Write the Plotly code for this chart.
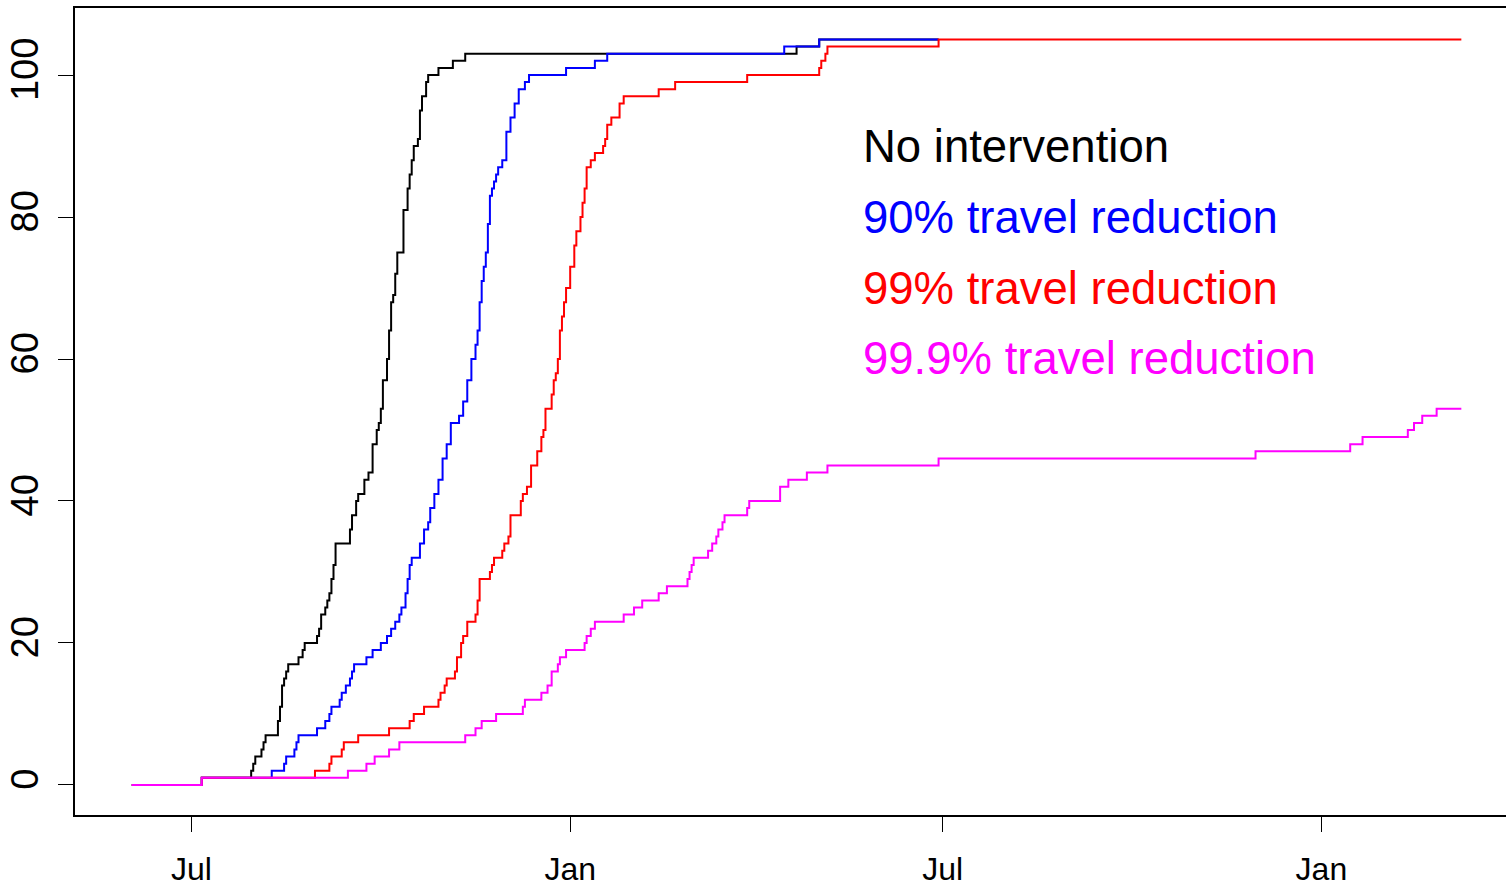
import pandas as pd
import plotly.graph_objects as go

# Cumulative count per scenario, as (day, value) change points.
# Days are counted from 1 July 2009; each value holds until the next day listed.
START = pd.Timestamp("2009-07-01")

days_none = [-29, 5, 29, 30, 31, 34, 35, 36, 42, 43, 44, 45, 46, 47, 52, 54, 55, 61, 62, 63,
             65, 66, 67, 68, 69, 70, 77, 78, 80, 81, 84, 86, 88, 90, 91, 92, 93, 95, 96, 97,
             98, 99, 100, 103, 105, 106, 107, 108, 110, 111, 112, 114, 115, 120, 127, 133,
             294, 305, 363]
vals_none = [0, 1, 2, 3, 4, 5, 6, 7, 9, 11, 14, 15, 16, 17, 18, 19, 20, 21, 22, 24,
             25, 26, 27, 29, 31, 34, 36, 38, 40, 41, 43, 44, 48, 50, 51, 53, 57, 60, 64, 68,
             69, 72, 75, 81, 84, 86, 88, 90, 91, 95, 97, 99, 100, 101, 102, 103,
             104, 105, 105]

days_90 = [-29, 5, 39, 45, 46, 50, 51, 52, 61, 65, 67, 68, 72, 73, 75, 77, 78, 79, 85, 88,
           92, 95, 97, 99, 101, 102, 104, 105, 106, 107, 111, 113, 115, 116, 118, 120, 122,
           124, 126, 130, 132, 134, 136, 138, 139, 140, 141, 142, 143, 144, 145, 146, 147,
           148, 149, 151, 153, 155, 157, 159, 162, 164, 182, 196, 202, 288, 305, 363]
vals_90 = [0, 1, 2, 3, 4, 5, 6, 7, 8, 9, 10, 11, 12, 13, 14, 15, 16, 17, 18, 19,
           20, 21, 22, 23, 24, 25, 27, 29, 31, 32, 34, 36, 37, 39, 41, 43, 46,
           48, 51, 52, 54, 57, 60, 62, 64, 68, 71, 73, 75, 79, 83, 84, 85,
           86, 87, 88, 92, 94, 96, 98, 99, 100, 101, 102, 103, 104, 105, 105]

days_99 = [-29, 5, 60, 67, 68, 73, 74, 81, 96, 106, 108, 113, 120, 121, 123, 124, 128, 129,
           131, 132, 134, 138, 139, 140, 145, 146, 147, 151, 152, 154, 155, 160, 161, 163,
           165, 168, 170, 171, 172, 175, 176, 177, 178, 179, 180, 181, 182, 184, 186, 187,
           189, 190, 191, 192, 194, 196, 200, 201, 202, 204, 208, 210, 227, 235, 270, 305,
           306, 308, 309, 363, 617]
vals_99 = [0, 1, 2, 3, 4, 5, 6, 7, 8, 9, 10, 11, 12, 13, 14, 15, 16, 18,
           20, 21, 23, 24, 26, 29, 30, 31, 32, 33, 34, 35, 38, 40, 41, 42,
           45, 47, 49, 50, 53, 55, 57, 58, 60, 64, 66, 68, 70, 73, 76, 78,
           80, 82, 84, 87, 88, 89, 90, 91, 93, 94, 96, 97, 98, 99, 100, 101,
           102, 103, 104, 105, 105]

days_999 = [-29, 5, 76, 85, 89, 96, 101, 133, 138, 141, 148, 161, 162, 170, 173, 175, 178,
            179, 182, 191, 192, 194, 196, 210, 215, 219, 227, 231, 241, 242, 243, 244, 251,
            253, 255, 256, 258, 259, 270, 271, 286, 290, 299, 309, 363, 517, 563, 569, 591,
            594, 598, 605, 617]
vals_999 = [0, 1, 2, 3, 4, 5, 6, 7, 8, 9, 10, 11, 12, 13, 14, 16, 17,
            18, 19, 20, 21, 22, 23, 24, 25, 26, 27, 28, 29, 30, 31, 32, 33,
            34, 35, 36, 37, 38, 39, 40, 42, 43, 44, 45, 46, 47, 48, 49, 50,
            51, 52, 53, 53]

scenario_names = ["No intervention", "90% travel reduction",
                  "99% travel reduction", "99.9% travel reduction"]
scenario_colors = ["#000000", "#0000FF", "#FF0000", "#FF00FF"]

tick_dates = ["2009-07-01", "2010-01-01", "2010-07-01", "2011-01-01"]
tick_text = ["Jul", "Jan", "Jul", "Jan"]
y_ticks = [0, 20, 40, 60, 80, 100]


def to_dates(days):
    return START + pd.to_timedelta(days, unit="D")


series = [(days_none, vals_none), (days_90, vals_90),
          (days_99, vals_99), (days_999, vals_999)]

FONT = "Liberation Sans, Arial, Helvetica, sans-serif"

fig = go.Figure()
for (d, v), name, col in zip(series, scenario_names, scenario_colors):
    fig.add_trace(go.Scatter(
        x=to_dates(d), y=v, mode="lines", name=name,
        line=dict(color=col, width=2, shape="hv"),
        showlegend=False, hoverinfo="skip",
    ))

# Scenario labels, coloured like their lines
label_y = [0.828, 0.741, 0.653, 0.566]
for name, col, yy in zip(scenario_names, scenario_colors, label_y):
    fig.add_annotation(
        text=name, xref="paper", yref="paper", x=0.5493, y=yy,
        xanchor="left", yanchor="middle", showarrow=False,
        font=dict(family=FONT, size=45.5, color=col),
    )

x_lo = START + pd.Timedelta(days=-56.6)
x_hi = START + pd.Timedelta(days=638.7)

fig.update_layout(
    width=1506, height=889,
    margin=dict(l=75, r=0, t=8, b=74, autoexpand=False),
    paper_bgcolor="white", plot_bgcolor="white",
    font=dict(family=FONT, color="black"),
    xaxis=dict(
        range=[x_lo, x_hi], type="date", automargin=False,
        tickmode="array", tickvals=tick_dates, ticktext=tick_text,
        ticks="outside", ticklen=15, tickwidth=1, tickcolor="black",
        tickfont=dict(size=32, family=FONT, color="black"),
        ticklabelstandoff=10,
        showline=True, linecolor="black", linewidth=2, mirror=True,
        showgrid=False, zeroline=False,
    ),
    yaxis=dict(
        range=[-4.23, 109.44], automargin=False,
        tickmode="array", tickvals=y_ticks,
        ticks="outside", ticklen=15, tickwidth=1, tickcolor="black",
        tickangle=-90, tickfont=dict(size=38, family=FONT, color="black"),
        ticklabelstandoff=5,
        showline=True, linecolor="black", linewidth=2, mirror=False,
        showgrid=False, zeroline=False,
    ),
)

fig.write_html("out.html")
